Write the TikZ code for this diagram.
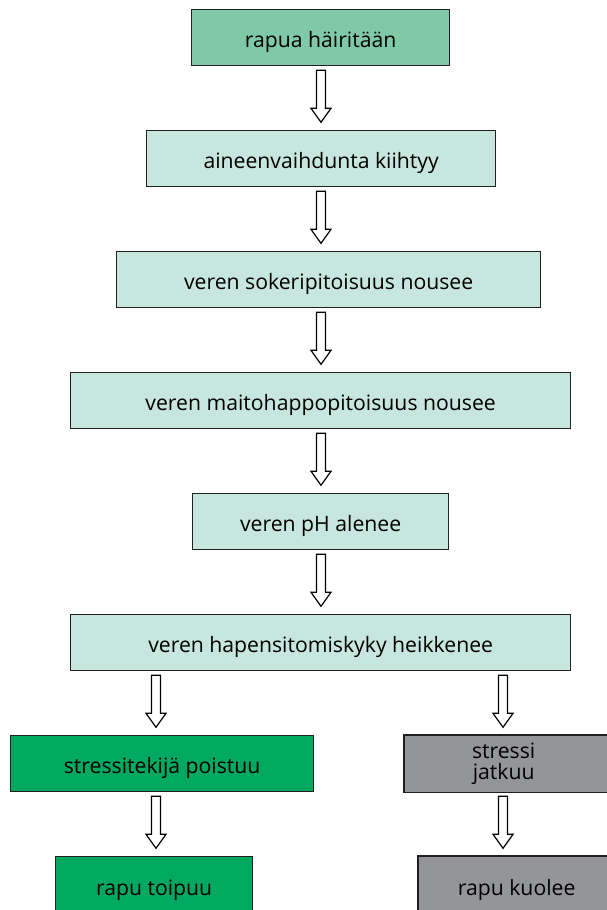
\documentclass[tikz,border=0pt]{standalone}
\usepackage{fontspec}
\setmainfont{Open Sans}
\usetikzlibrary{calc,backgrounds}
\definecolor{topgreen}{HTML}{7FC9A7}
\definecolor{lightbox}{HTML}{C7E6DE}
\definecolor{greenbox}{HTML}{00A95F}
\definecolor{greybox}{HTML}{939598}
\definecolor{edge}{HTML}{231F20}
\tikzset{
  basebox/.style={draw=edge, line width=1.3pt, rectangle, inner sep=0pt, anchor=north west,
    minimum height=56pt, align=center, text=black,
    font=\fontsize{21.2}{20.5}\selectfont},
  box/.style={basebox, text height=19.4pt, text depth=0pt},
  lightb/.style={box, fill=lightbox},
  openbox/.style={box, draw=none},
  edgeline/.style={draw=edge, line width=1.3pt},
  barrow/.pic={\draw[draw=black, fill=white, line width=1.2pt, line join=miter]
    (-4.5,0) -- (-4.5,38) -- (-10,38) -- (0,52) -- (10,38) -- (4.5,38) -- (4.5,0) -- cycle;}
}
\begin{document}
\begin{tikzpicture}[x=1pt, y=-1pt]
\useasboundingbox (0,0) rectangle (607,910);
\clip (0,0) rectangle (607,910);
\node[box, fill=topgreen, minimum width=258pt] (n1) at (191,9) {rapua häiritään};
\node[lightb, minimum width=349pt] (n2) at (146,130) {aineenvaihdunta kiihtyy};
\node[lightb, minimum width=424pt] (n3) at (116,251) {veren sokeripitoisuus nousee};
\node[lightb, minimum width=500pt] (n4) at (70,372) {veren maitohappopitoisuus nousee};
\node[lightb, minimum width=256pt] (n5) at (192,493) {veren pH alenee};
\node[lightb, minimum width=500pt] (n6) at (70,614) {veren hapensitomiskyky heikkenee};
\node[box, fill=greenbox, minimum width=303pt] (g1) at (10,735) {stressitekijä poistuu};
\node[basebox, draw=none, minimum width=198pt] (r1) at (404,735) {stressi\\jatkuu};
\node[box, fill=greenbox, minimum width=197pt, minimum height=58pt] (g2) at (55,856) {rapu toipuu};
\node[openbox, minimum width=196pt, minimum height=58pt] (r2) at (418,856) {rapu kuolee};
\begin{scope}[on background layer]
  \draw[edgeline, fill=greybox] (r1.north west) rectangle ([xshift=40pt]r1.south east);
  \draw[edgeline, fill=greybox] (r2.north west) rectangle ([xshift=40pt]r2.south east);
\end{scope}
\coordinate (cx) at (321,0);
\coordinate (lx) at (156,0);
\coordinate (rx) at (503,0);
\path ($(n1.south -| cx)+(0,4)$) pic {barrow};
\path ($(n2.south -| cx)+(0,4)$) pic {barrow};
\path ($(n3.south -| cx)+(0,4)$) pic {barrow};
\path ($(n4.south -| cx)+(0,4)$) pic {barrow};
\path ($(n5.south -| cx)+(0,4)$) pic {barrow};
\path ($(n6.south -| lx)+(0,4)$) pic {barrow};
\path ($(n6.south -| rx)+(0,4)$) pic {barrow};
\path ($(g1.south -| lx)+(0,4)$) pic {barrow};
\path ($(r1.south -| rx)+(0,4)$) pic {barrow};
\end{tikzpicture}
\end{document}
